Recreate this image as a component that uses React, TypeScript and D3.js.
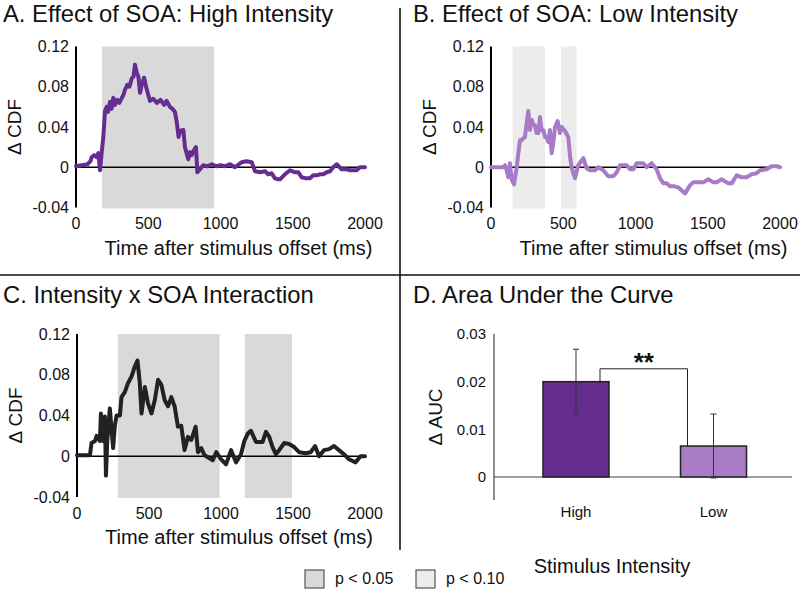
import React from "react";
import * as d3 from "d3";

// ---------- data ----------
const HIGH_MS = [0,40,80,100,108,125,143,155,166,178,189,201,212,222,235,246,258,270,285,300,328,339,355,370,385,398,408,420,432,443,455,471,485,500,512,535,560,585,610,627,650,668,685,697,710,720,743,754,777,789,800,812,830,840,858,880,910,940,973,1000,1030,1066,1100,1147,1180,1216,1239,1273,1308,1330,1354,1377,1400,1412,1446,1481,1516,1539,1562,1590,1619,1642,1666,1690,1712,1735,1758,1780,1804,1838,1873,1896,1920,1942,1965,2000];
const HIGH_DELTA = [0.001,0.002,0.003,0.006,0.010,0.012,0.010,0.014,-0.003,0.015,0.030,0.056,0.060,0.055,0.065,0.058,0.069,0.062,0.067,0.064,0.072,0.077,0.082,0.080,0.088,0.090,0.102,0.094,0.090,0.074,0.082,0.089,0.080,0.072,0.066,0.068,0.064,0.067,0.062,0.066,0.060,0.058,0.055,0.045,0.030,0.036,0.037,0.020,0.008,0.015,0.012,0.016,0.020,-0.005,-0.002,0.002,0.001,0.003,0.001,0.002,0.001,0.003,0.000,0.005,0.006,0.005,-0.004,-0.005,-0.004,-0.007,-0.006,-0.011,-0.012,-0.012,-0.007,-0.003,-0.005,-0.005,-0.010,-0.011,-0.011,-0.008,-0.008,-0.007,-0.007,-0.005,-0.004,0.000,0.003,-0.002,-0.002,-0.003,-0.003,-0.003,0.000,0.000];

const LOW_MS = [0,40,85,97,108,120,131,143,159,178,189,201,212,235,247,258,270,282,293,304,316,328,339,350,362,374,385,397,408,420,431,443,461,477,489,512,535,547,558,570,581,604,639,662,685,720,743,777,812,847,870,893,939,962,985,1008,1054,1077,1112,1146,1170,1193,1216,1239,1270,1296,1320,1343,1377,1400,1440,1469,1504,1539,1562,1596,1642,1666,1700,1735,1769,1804,1838,1862,1908,1942,1977,2000];
const LOW_DELTA = [0,0,0,0.002,-0.003,-0.010,0.004,-0.012,-0.017,0,0.014,0.027,0.027,0.030,0.044,0.056,0.037,0.047,0.042,0.042,0.034,0.034,0.050,0.037,0.037,0.030,0.030,0.025,0.037,0.014,0.024,0.040,0.046,0.034,0.040,0.036,0.030,0.011,0,-0.006,-0.011,0.002,0.009,-0.001,-0.003,-0.003,0,-0.003,-0.009,-0.009,-0.005,0.002,0.002,-0.002,-0.002,0.004,0.004,0,0.004,-0.002,-0.011,-0.016,-0.016,-0.019,-0.019,-0.020,-0.023,-0.026,-0.018,-0.015,-0.015,-0.015,-0.012,-0.015,-0.015,-0.012,-0.016,-0.016,-0.008,-0.010,-0.010,-0.007,-0.006,-0.003,-0.002,0.001,0.001,0];

const INTER_MS = [0,50,90,101,125,136,159,166,182,194,201,210,228,240,251,263,275,298,309,332,355,378,401,420,436,448,471,493,517,540,563,586,609,632,655,678,701,724,747,770,794,824,840,863,886,920,943,967,1001,1035,1070,1104,1139,1162,1185,1208,1230,1243,1289,1312,1335,1358,1381,1404,1439,1473,1508,1543,1589,1623,1653,1681,1715,1750,1785,1819,1854,1889,1935,1969,2000];
const INTER_DELTA = [0.001,0.001,0.001,0.013,0.015,0.020,0.015,0.042,0.015,0.039,-0.019,0.015,0.047,0.026,0.008,0.030,0.040,0.040,0.058,0.063,0.072,0.078,0.088,0.094,0.072,0.042,0.068,0.052,0.042,0.055,0.075,0.070,0.055,0.049,0.058,0.049,0.029,0.030,0.006,0.019,0.016,0.029,0.004,0.008,0.001,-0.002,-0.004,0.004,-0.003,-0.008,0.006,-0.006,0.002,0.015,0.022,0.025,0.018,0.014,0.014,0.024,0.019,0.009,0.002,0.006,0.013,0.012,0.009,0.004,0.003,0.004,0.010,0,0.006,0.007,0.010,0.006,0.002,-0.003,-0.006,0,0];

// significance windows [start ms, end ms, level]
const SHADES_HIGH = [[180, 955, "p05"]];
const SHADES_LOW = [[150, 374, "p10"], [484, 593, "p10"]];
const SHADES_INTER = [[284, 990, "p05"], [1165, 1493, "p05"]];

const Y_TICKS = [0.12, 0.08, 0.04, 0, -0.04];
const Y_TICK_LABELS = ["0.12", "0.08", "0.04", "0", "-0.04"];
const X_TICKS = [0, 500, 1000, 1500, 2000];

const BAR_LABELS = ["High", "Low"];
const BAR_VALUES = [0.02, 0.0065];
const BAR_ERRORS = [0.0068, 0.0067];
const AUC_TICKS = [0.03, 0.02, 0.01, 0];
const AUC_TICK_LABELS = ["0.03", "0.02", "0.01", "0"];

const LEGEND_LABELS = ["p < 0.05", "p < 0.10"];

// ---------- styles ----------
const FONT = "'Liberation Sans', Arial, sans-serif";
const SHADE_FILL: Record<string, string> = { p05: "#d9d9d9", p10: "#ececec" };
const HIGH_COLOR = "#662d91";
const LOW_COLOR = "#a77bc6";
const INTER_COLOR = "#222222";

type LineProps = {
  title: string;
  titleX: number;
  titleY: number;
  axisX: number;
  xEnd: number;
  yTop: number;
  yBottom: number;
  ms: number[];
  delta: number[];
  shades: any[];
  color: string;
};

function LinePanel(p: LineProps) {
  const x = d3.scaleLinear().domain([0, 2000]).range([p.axisX, p.xEnd]);
  const y = d3.scaleLinear().domain([-0.04, 0.12]).range([p.yBottom, p.yTop]);
  const pts = p.ms.map((m, i) => [m, p.delta[i]] as [number, number]);
  const line = d3
    .line<[number, number]>()
    .x((d) => x(d[0]))
    .y((d) => y(d[1]));
  const midY = (p.yTop + p.yBottom) / 2;
  return (
    <g>
      <text x={p.titleX} y={p.titleY} fontSize={23.8} fontFamily={FONT} fill="#111">
        {p.title}
      </text>
      {p.shades.map((s, i) => (
        <rect
          key={i}
          x={x(s[0])}
          y={y(0.12)}
          width={x(s[1]) - x(s[0])}
          height={y(-0.04) - y(0.12) + 1}
          fill={SHADE_FILL[s[2]]}
        />
      ))}
      <line x1={x(0)} x2={x(2000)} y1={y(0)} y2={y(0)} stroke="#000" strokeWidth={1.6} />
      <line x1={p.axisX} x2={p.axisX} y1={y(0.12)} y2={y(-0.04)} stroke="#000" strokeWidth={2} />
      <path
        d={line(pts) || ""}
        fill="none"
        stroke={p.color}
        strokeWidth={4}
        strokeLinejoin="round"
        strokeLinecap="round"
      />
      {Y_TICKS.map((t, i) => (
        <text
          key={t}
          x={p.axisX - 7}
          y={y(t)}
          dy="0.35em"
          textAnchor="end"
          fontSize={16}
          fontFamily={FONT}
          fill="#111"
        >
          {Y_TICK_LABELS[i]}
        </text>
      ))}
      {X_TICKS.map((t) => (
        <text
          key={t}
          x={x(t)}
          y={p.yBottom + 16}
          dy="0.35em"
          textAnchor="middle"
          fontSize={16}
          fontFamily={FONT}
          fill="#111"
        >
          {t}
        </text>
      ))}
      <text
        x={(p.axisX + p.xEnd) / 2 + 18}
        y={p.yBottom + 47}
        textAnchor="middle"
        fontSize={20}
        fontFamily={FONT}
        fill="#111"
      >
        Time after stimulus offset (ms)
      </text>
      <text
        transform={`translate(${p.axisX - 55},${midY}) rotate(-90)`}
        textAnchor="middle"
        fontSize={19}
        fontFamily={FONT}
        fill="#111"
      >
        Δ CDF
      </text>
    </g>
  );
}

function BarPanel() {
  const axisX = 494;
  const y = d3.scaleLinear().domain([0, 0.03]).range([477, 334]);
  const xb = d3
    .scaleBand<string>()
    .domain(BAR_LABELS)
    .range([507.5, 782])
    .paddingInner(0.52)
    .paddingOuter(0.258);
  const bw = xb.bandwidth();
  const colors = [HIGH_COLOR, LOW_COLOR];
  const cx = BAR_LABELS.map((l) => (xb(l) as number) + bw / 2);
  const bracketY = y(0.0227);
  const bx1 = cx[0] + 24;
  const bx2 = cx[1] - 26;
  return (
    <g>
      <text x={413} y={303} fontSize={23.8} fontFamily={FONT} fill="#111">
        D. Area Under the Curve
      </text>
      <line x1={axisX} x2={axisX} y1={y(0.03)} y2={y(-0.0048)} stroke="#444" strokeWidth={1.2} />
      <line x1={axisX} x2={792} y1={y(0)} y2={y(0)} stroke="#444" strokeWidth={1.2} />
      {BAR_LABELS.map((l, i) => (
        <g key={l}>
          <rect
            x={xb(l)}
            y={y(BAR_VALUES[i])}
            width={bw}
            height={y(0) - y(BAR_VALUES[i])}
            fill={colors[i]}
            stroke="#222"
            strokeWidth={1.5}
          />
          <line
            x1={cx[i]}
            x2={cx[i]}
            y1={y(BAR_VALUES[i] + BAR_ERRORS[i])}
            y2={y(BAR_VALUES[i] - BAR_ERRORS[i])}
            stroke="#333"
            strokeWidth={1}
          />
          <line
            x1={cx[i] - 3}
            x2={cx[i] + 3}
            y1={y(BAR_VALUES[i] + BAR_ERRORS[i])}
            y2={y(BAR_VALUES[i] + BAR_ERRORS[i])}
            stroke="#333"
            strokeWidth={1}
          />
          <line
            x1={cx[i] - 3}
            x2={cx[i] + 3}
            y1={y(BAR_VALUES[i] - BAR_ERRORS[i])}
            y2={y(BAR_VALUES[i] - BAR_ERRORS[i])}
            stroke="#333"
            strokeWidth={1}
          />
          <text
            x={cx[i]}
            y={512}
            dy="0.35em"
            textAnchor="middle"
            fontSize={15}
            fontFamily={FONT}
            fill="#111"
          >
            {l}
          </text>
        </g>
      ))}
      <path
        d={`M${bx1},${y(BAR_VALUES[0])}V${bracketY}H${bx2}V${y(BAR_VALUES[1])}`}
        fill="none"
        stroke="#222"
        strokeWidth={1}
      />
      <text
        x={(bx1 + bx2) / 2}
        y={bracketY + 2}
        textAnchor="middle"
        fontSize={26}
        fontWeight="bold"
        fontFamily={FONT}
        fill="#111"
      >
        **
      </text>
      {AUC_TICKS.map((t, i) => (
        <text
          key={t}
          x={axisX - 8}
          y={y(t)}
          dy="0.35em"
          textAnchor="end"
          fontSize={15}
          fontFamily={FONT}
          fill="#111"
        >
          {AUC_TICK_LABELS[i]}
        </text>
      ))}
      <text
        transform={`translate(435,${(y(0.03) + y(-0.0048)) / 2}) rotate(-90)`}
        textAnchor="middle"
        dy="0.35em"
        fontSize={19}
        fontFamily={FONT}
        fill="#111"
      >
        Δ AUC
      </text>
      <text x={612} y={573} textAnchor="middle" fontSize={20} fontFamily={FONT} fill="#111">
        Stimulus Intensity
      </text>
    </g>
  );
}

export default function App() {
  const legendFills = [SHADE_FILL.p05, SHADE_FILL.p10];
  const legendX = [305, 416];
  return (
    <svg
      width={800}
      height={592}
      style={{ position: "absolute", left: 0, top: 0, background: "#fff" }}
    >
      <rect x={0} y={0} width={800} height={592} fill="#fff" />
      <LinePanel
        title="A. Effect of SOA: High Intensity"
        titleX={3}
        titleY={22}
        axisX={76}
        xEnd={365}
        yTop={46.5}
        yBottom={207.5}
        ms={HIGH_MS}
        delta={HIGH_DELTA}
        shades={SHADES_HIGH}
        color={HIGH_COLOR}
      />
      <LinePanel
        title="B. Effect of SOA: Low Intensity"
        titleX={413}
        titleY={22}
        axisX={491}
        xEnd={780}
        yTop={46.5}
        yBottom={207.5}
        ms={LOW_MS}
        delta={LOW_DELTA}
        shades={SHADES_LOW}
        color={LOW_COLOR}
      />
      <LinePanel
        title="C. Intensity x SOA Interaction"
        titleX={3}
        titleY={303}
        axisX={77}
        xEnd={365}
        yTop={334}
        yBottom={497}
        ms={INTER_MS}
        delta={INTER_DELTA}
        shades={SHADES_INTER}
        color={INTER_COLOR}
      />
      <BarPanel />
      <line x1={400} x2={400} y1={8} y2={550} stroke="#111" strokeWidth={1.6} />
      <line x1={0} x2={800} y1={275} y2={275} stroke="#111" strokeWidth={1.6} />
      {LEGEND_LABELS.map((l, i) => (
        <g key={l}>
          <rect
            x={legendX[i]}
            y={570}
            width={19}
            height={18}
            fill={legendFills[i]}
            stroke="#555"
            strokeWidth={1.2}
          />
          <text x={legendX[i] + 30} y={584} fontSize={16} fontFamily={FONT} fill="#111">
            {l}
          </text>
        </g>
      ))}
    </svg>
  );
}
